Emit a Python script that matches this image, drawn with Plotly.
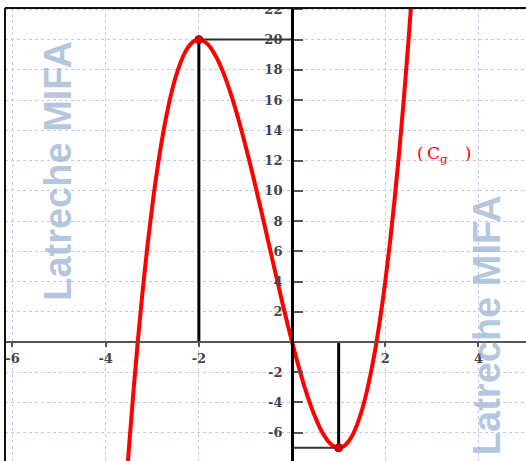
import plotly.graph_objects as go

# ---- data ----
curve_x = [-3.6, -3.5, -3.4, -3.3, -3.2, -3.1, -3.0, -2.9, -2.8, -2.7, -2.6, -2.5, -2.4,
           -2.3, -2.2, -2.1, -2.0, -1.9, -1.8, -1.7, -1.6, -1.5, -1.4, -1.3, -1.2, -1.1,
           -1.0, -0.9, -0.8, -0.7, -0.6, -0.5, -0.4, -0.3, -0.2, -0.1, 0.0, 0.1, 0.2,
           0.3, 0.4, 0.5, 0.6, 0.7, 0.8, 0.9, 1.0, 1.1, 1.2, 1.3, 1.4, 1.5, 1.6, 1.7,
           1.8, 1.9, 2.0, 2.1, 2.2, 2.3, 2.4, 2.5, 2.6]
curve_y = [-11.23, -7.0, -3.13, 0.40, 3.58, 6.45, 9.0, 11.25, 13.22, 14.90, 16.33, 17.5,
           18.43, 19.14, 19.62, 19.91, 20.0, 19.91, 19.66, 19.24, 18.69, 18.0, 17.19,
           16.28, 15.26, 14.17, 13.0, 11.77, 10.50, 9.18, 7.85, 6.5, 5.15, 3.82, 2.50,
           1.23, 0.0, -1.17, -2.26, -3.28, -4.19, -5.0, -5.69, -6.24, -6.66, -6.91,
           -7.0, -6.91, -6.62, -6.14, -5.43, -4.5, -3.33, -1.90, -0.22, 1.75, 4.0,
           6.55, 9.42, 12.60, 16.13, 20.0, 24.23]
ext_x = [-2, 1]
ext_y = [20, -7]
x_ticks = [-6, -4, -2, 2, 4]
y_ticks = [22, 20, 18, 16, 14, 12, 10, 8, 6, 4, 2, -2, -4, -6, -8]
x_range = [-6.16, 5.02]
y_range = [-7.87, 22.09]
curve_label = "(\u2009C<sub>g</sub>\u2003)"
watermark = "Latreche MIFA"

fig = go.Figure()

# guide segments to the extrema
for ex, ey in zip(ext_x, ext_y):
    fig.add_trace(go.Scatter(x=[ex, ex], y=[0, ey], mode="lines",
                             line=dict(color="#000000", width=3), showlegend=False,
                             hoverinfo="skip"))
    fig.add_trace(go.Scatter(x=[0, ex], y=[ey, ey], mode="lines",
                             line=dict(color="#333333", width=2), showlegend=False,
                             hoverinfo="skip"))

fig.add_trace(go.Scatter(x=curve_x, y=curve_y, mode="lines", line_shape="spline",
                         line=dict(color="#ff0000", width=4), showlegend=False))

fig.add_trace(go.Scatter(x=ext_x, y=ext_y, mode="markers",
                         marker=dict(color="#dd0000", size=8,
                                     line=dict(color="#990000", width=1)),
                         showlegend=False))

tickfont = dict(family="DejaVu Serif", size=13, color="#444444", weight="bold")
grid = dict(showgrid=True, gridcolor="#c4c4ff", griddash="dot", gridwidth=1,
            zeroline=False)

fig.update_layout(
    width=526, height=461,
    margin=dict(l=5, r=0, t=8, b=0, autoexpand=False),
    plot_bgcolor="white", paper_bgcolor="white",
    xaxis=dict(range=x_range, tickvals=x_ticks, ticktext=[str(v) for v in x_ticks],
               anchor="free", position=(0 - y_range[0]) / (y_range[1] - y_range[0]),
               showline=True, linecolor="#555555", linewidth=2,
               ticks="outside", ticklen=4, tickcolor="#555555", tickwidth=1.5,
               tickfont=tickfont, **grid),
    yaxis=dict(range=y_range, tickvals=y_ticks, ticktext=[str(v) for v in y_ticks],
               anchor="free", position=(0 - x_range[0]) / (x_range[1] - x_range[0]),
               showline=True, linecolor="#000000", linewidth=3,
               ticks="inside", ticklen=9, tickcolor="#555555", tickwidth=1.5,
               ticklabelstandoff=6, tickfont=tickfont, **grid),
)

# frame (left and top edges)
fig.add_shape(type="rect", xref="paper", yref="paper", x0=-0.02, x1=1.02, y0=1.0, y1=1.05,
              fillcolor="white", line_width=0, layer="above")
fig.add_shape(type="line", xref="paper", yref="paper", x0=0, x1=0, y0=0, y1=1.0,
              line=dict(color="#111111", width=2), layer="above")
fig.add_shape(type="line", xref="paper", yref="paper", x0=0, x1=1.02, y0=1.0, y1=1.0,
              line=dict(color="#111111", width=2), layer="above")

# curve label
fig.add_annotation(x=3.27, y=12.4, text=curve_label, showarrow=False,
                   font=dict(family="DejaVu Serif", size=17, color="#ff0000"))

# watermarks
wm_font = dict(family="Liberation Sans", size=38, color="rgba(160,184,214,0.8)", weight="bold")
fig.add_annotation(x=-5.03, y=11.3, text=watermark, textangle=-90, showarrow=False,
                   font=wm_font)
fig.add_annotation(x=4.2, y=1.1, text=watermark, textangle=-90, showarrow=False,
                   font=wm_font)
fig.add_annotation(xref="paper", yref="paper", x=0.0, y=1.0, xanchor="left", yanchor="bottom",
                   yshift=-2, text=watermark + "  " + watermark, showarrow=False,
                   font=dict(family="Liberation Sans", size=44, color="#dbe7f8", weight="bold"))

fig.write_html("out.html", config={"displayModeBar": False},
               post_script="document.body.style.margin='0px';document.body.style.overflow='hidden';")
